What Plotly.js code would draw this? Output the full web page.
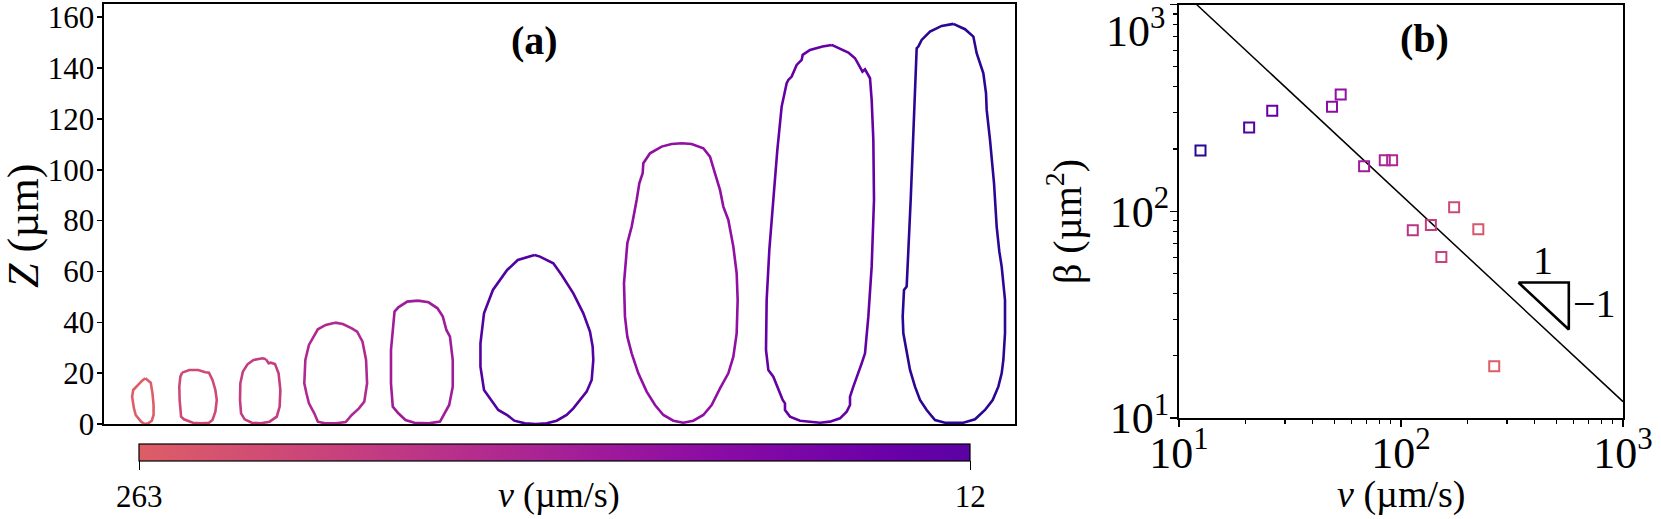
<!DOCTYPE html>
<html>
<head>
<meta charset="utf-8">
<script src="https://cdn.plot.ly/plotly-3.0.1.min.js"></script>
<style>html,body{margin:0;padding:0;background:#fff;}#chart{width:1661px;height:519px;}</style>
</head>
<body>
<div id="chart"></div>
<script>
// ---------- Panel (a): cell outlines (x, Z in µm) ----------
const cell1X = [16.47,18.58,19.28,19.70,19.70,19.00,17.59,16.19,14.78,12.67,11.97,11.27,11.69,13.38,15.20];
const cell1Z = [17.97,16.26,12.07,7.48,3.54,1.31,0.26,0,0.92,3.54,6.16,10.75,13.38,15.34,17.05];
const cell2X = [30.94,33.75,37.26,40.07,41.48,42.88,44.01,44.57,44.01,42.88,41.48,38.67,35.16,31.64,30.52,29.96,29.82,30.24];
const cell2Z = [20.20,21.25,21.25,20.33,20.20,17.31,13.38,9.44,4.85,1.57,0.52,0.26,0.52,1.84,2.89,9.44,14.69,18.62];
const cell3X = [63.96,62.55,59.04,56.65,54.83,53.84,53.70,54.12,55.53,58.34,61.85,65.36,68.17,69.30,69.58,68.88,67.47,65.79,64.94];
const cell3Z = [25.44,25.84,25.18,23.48,20.59,16.00,9.44,4.20,1.84,0.52,0.26,0.92,2.89,6.82,13.38,19.93,23.61,24.13,23.87];
const cell4X = [91.08,94.17,97.68,99.79,101.9,103.3,103.7,102.6,100.5,97.68,95.29,91.36,87.14,84.33,82.93,80.82,79.84,79.0,79.41,80.82,84.33,87.42];
const cell4Z = [39.87,39.34,37.64,36.33,32.39,25.18,16.0,8.79,6.16,3.54,0.79,0.26,0.26,0.92,4.20,8.13,12.07,16.0,25.18,31.08,37.25,38.95];
const cell5X = [123.7,127.9,131.4,133.5,134.9,136.3,137.4,137.4,136.0,134.2,132.4,127.9,122.3,118.8,116.0,113.8,113.1,113.1,113.8,114.5,116.0,119.5];
const cell5Z = [48.52,47.87,45.51,42.23,36.98,34.36,25.18,14.69,7.48,4.20,0.92,0.26,0.52,1.57,4.20,6.82,16.0,29.11,38.30,44.20,45.90,48.13];
const cell6X = [169.6,171.7,176.97,180.25,184.84,188.77,191.39,192.44,192.70,192.05,190.08,188.11,184.84,182.21,178.28,174.34,170.0,165.8,161.6,158.8,155.3,152.5,149.7,148.3,148.3,149.7,153.2,158.8,163.0];
const cell6Z = [66.49,65.84,63.21,58.62,51.41,43.54,36.33,30.43,25.18,17.31,12.72,10.10,6.16,3.54,1.31,0.26,0,0.26,1.31,3.54,5.51,9.44,13.38,22.56,31.74,43.54,52.72,60.59,64.52];
const cell7X = [227.46,231.39,235.98,238.6,240.57,242.54,243.85,245.82,247.79,249.1,249.49,249.1,247.79,245.82,242.54,239.26,235.98,232.05,228.11,224.18,220.25,216.97,213.69,210.41,207.79,206.08,205.16,204.77,206.08,207.79,209.75,210.8,212.11,212.38,215.0,219.59,223.52];
const cell7Z = [110.43,110.16,108.46,105.18,98.62,92.07,85.51,80.26,69.77,59.28,48.79,35.67,26.49,19.93,14.03,7.48,3.54,1.31,0.52,1.31,3.54,7.48,12.72,19.93,27.80,34.36,42.23,55.34,71.08,77.64,88.13,94.69,98.62,102.56,106.49,109.11,110.16];
const cell8X = [286.48,290.41,293.03,295.66,297.62,298.6,299.59,301.56,302.21,302.87,303.13,302.21,300.9,299.59,298.28,296.31,295.0,293.69,293.69,292.38,289.75,285.82,281.89,274.02,270.08,268.11,268.11,267.2,265.49,263.52,261.56,260.64,260.9,261.95,263.52,265.1,266.8,268.77,269.43,270.74,272.7,274.67,275.07,277.95,282.89];
const cell8Z = [149.11,147.15,146.1,143.87,140.59,138.6,139.5,136.0,127.48,111.74,88.13,61.9,42.23,27.8,23.87,18.62,14.69,10.75,7.48,4.85,2.23,0.92,0.52,1.31,2.89,5.51,8.13,9.44,13.38,18.62,21.25,29.11,48.79,68.46,88.13,107.8,124.85,134.03,135.34,136.66,141.25,143.21,145.18,147.15,148.46];
const cell9X = [334.35,338.93,342.22,343.52,346.15,347.2,347.46,348.77,350.35,351.39,352.44,353.36,354.67,354.67,354.02,353.36,352.05,349.82,346.8,342.87,338.28,331.07,327.13,323.85,321.23,319.26,317.3,315.98,314.67,314.41,314.93,315.98,316.64,317.56,318.61,319.66,319.92,320.57,321.88,325.16,329.75];
const cell9Z = [157.38,155.28,152.39,145.84,137.97,130.1,123.54,111.74,94.69,77.64,67.8,61.9,48.79,35.67,25.18,19.93,14.69,9.44,5.51,1.84,0.52,0.52,1.57,5.51,9.44,14.69,21.25,27.8,35.67,42.23,52.72,54.03,67.15,88.13,114.36,140.59,147.8,148.46,151.08,154.36,156.59];
// velocity (µm/s) assigned to each outline (sets its colour)
const cellV = [263, 173.5, 136.3, 91.2, 68.2, 20.7, 53.5, 26.3, 12.5];

// ---------- Panel (b): β versus v ----------
const vData    = [12.5, 20.7, 26.3, 48.9, 53.5, 68.2, 84.5, 91.2, 113, 136.3, 173.5, 152, 223, 263];
const betaData = [196.9, 254, 306, 320, 367, 165, 176.6, 176.6, 81, 85.7, 104.7, 60, 81.9, 17.8];
const fitV     = [12, 1000];
const fitBeta  = [1000, 12];
const triV     = [338, 570, 570, 338];
const triBeta  = [45.2, 45.2, 26.8, 45.2];
const cbTicks  = [263, 12];
const logTickVals  = [10, 100, 1000];
const logTickText  = ['10<sup>1</sup>', '10<sup>2</sup>', '10<sup>3</sup>'];
const logMinorVals = [20,30,40,50,60,70,80,90,200,300,400,500,600,700,800,900];

// ---------- colour helpers (plasma) ----------
const plasmaStops = [[0,[13,8,135]],[0.1,[65,4,157]],[0.2,[106,0,168]],[0.3,[143,13,164]],[0.4,[177,42,144]],[0.5,[204,71,120]],[0.6,[225,100,98]],[0.7,[242,132,75]]];
function plasma(t){
  for(let i=0;i<plasmaStops.length-1;i++){
    const [t0,c0]=plasmaStops[i],[t1,c1]=plasmaStops[i+1];
    if(t<=t1||i===plasmaStops.length-2){
      const f=Math.max(0,Math.min(1,(t-t0)/(t1-t0)));
      return 'rgb('+c0.map((c,k)=>Math.round(c+(c1[k]-c)*f)).join(',')+')';
    }
  }
}
const vMin=12, vMax=263;
function vColor(v){
  const f=(Math.log10(v)-Math.log10(vMin))/(Math.log10(vMax)-Math.log10(vMin));
  return plasma(0.05+0.53*Math.max(0,Math.min(1,f)));
}
const cbScale=[];
for(let i=0;i<=10;i++){ cbScale.push([i/10, plasma(0.58-0.42*i/10)]); }

const FONT='"Liberation Serif", "DejaVu Serif", serif';
const W=1661,H=519;
const px=(x)=>x/W, py=(y)=>1-y/H;

const cellsX=[cell1X,cell2X,cell3X,cell4X,cell5X,cell6X,cell7X,cell8X,cell9X];
const cellsZ=[cell1Z,cell2Z,cell3Z,cell4Z,cell5Z,cell6Z,cell7Z,cell8Z,cell9Z];
const traces=[];
cellsX.forEach((X,i)=>{
  const Z=cellsZ[i];
  traces.push({x:X.concat([X[0]]), y:Z.concat([Z[0]]), mode:'lines', type:'scatter',
    xaxis:'x', yaxis:'y', line:{color:vColor(cellV[i]), width:2.6}, hoverinfo:'skip', showlegend:false});
});
// colour bar carrier (no drawn marks)
traces.push({x:[null], y:[null], type:'scatter', mode:'markers', xaxis:'x', yaxis:'y', showlegend:false,
  marker:{color:[-vMax], cmin:-vMax, cmax:-vMin, colorscale:cbScale, showscale:true,
    colorbar:{orientation:'h', x:px((139.3+970)/2), xanchor:'center', y:py(444), yanchor:'top',
      len:830.7, lenmode:'pixels', thickness:17, thicknessmode:'pixels', xpad:0, ypad:0,
      outlinewidth:1.2, outlinecolor:'#000', ticks:'outside', ticklen:9, tickwidth:1.2, tickcolor:'#000',
      tickvals:cbTicks.map(v=>-v), ticktext:cbTicks.map(String), tickfont:{family:FONT,size:31,color:'#000'}}}});
// fit line
traces.push({x:fitV, y:fitBeta, mode:'lines', type:'scatter', xaxis:'x2', yaxis:'y2', line:{color:'#000', width:1.5}, showlegend:false});
// data
traces.push({x:vData, y:betaData, mode:'markers', type:'scatter', xaxis:'x2', yaxis:'y2', showlegend:false,
  marker:{symbol:'square-open', size:10, color:vData.map(vColor), line:{width:2}}});
// slope triangle
traces.push({x:triV, y:triBeta, mode:'lines', type:'scatter', xaxis:'x2', yaxis:'y2', line:{color:'#000', width:2.6}, showlegend:false});

const axLine={showline:true, linecolor:'#000', linewidth:2, mirror:true, showgrid:false, zeroline:false};
const logAxis={type:'log', range:[1,3], tickmode:'array', tickvals:logTickVals,
    ticks:'outside', ticklen:7, tickwidth:1.5, tickcolor:'#000', tickfont:{family:FONT,size:44,color:'#000'},
    minor:{tickmode:'array', tickvals:logMinorVals, ticks:'outside', ticklen:4, tickwidth:1.2, tickcolor:'#000', showgrid:false}};
const layout={
  width:W, height:H, margin:{l:0,r:0,t:0,b:0}, paper_bgcolor:'#fff', plot_bgcolor:'#fff',
  font:{family:FONT, color:'#000'}, showlegend:false,
  xaxis:Object.assign({domain:[px(103.5),px(1015)], range:[0,358.6], showticklabels:false, ticks:''}, axLine),
  yaxis:Object.assign({domain:[py(424),py(4)], range:[0,165.2], dtick:20, tick0:0, ticks:'outside', ticklen:5, tickwidth:1.5, tickcolor:'#000',
    ticklabelstandoff:-4, tickfont:{family:FONT,size:31,color:'#000'}}, axLine),
  xaxis2:Object.assign({domain:[px(1179),px(1623)], anchor:'y2', ticktext:logTickText, ticklabelstandoff:-12}, logAxis, axLine),
  // top label (10^3) is drawn as an annotation below so that it is not clipped by the page edge
  yaxis2:Object.assign({domain:[py(418),py(4.5)], anchor:'x2', ticktext:[logTickText[0], logTickText[1], ''], ticklabelstandoff:-8}, logAxis, axLine),
  annotations:[
    {text:logTickText[2], x:px(1167), y:py(29), xref:'paper', yref:'paper', showarrow:false, xanchor:'right', yanchor:'middle', font:{family:FONT,size:44}},
    {text:'<i>Z</i> (µm)', x:px(24), y:py(226), xref:'paper', yref:'paper', textangle:-90, showarrow:false, xanchor:'center', yanchor:'middle', font:{family:FONT,size:44}},
    {text:'<b>(a)</b>', x:px(534), y:py(40), xref:'paper', yref:'paper', showarrow:false, xanchor:'center', yanchor:'middle', font:{family:FONT,size:40}},
    {text:'<b>(b)</b>', x:px(1424), y:py(38), xref:'paper', yref:'paper', showarrow:false, xanchor:'center', yanchor:'middle', font:{family:FONT,size:40}},
    {text:'<i>v</i> (µm/s)', x:px(559), y:py(495), xref:'paper', yref:'paper', showarrow:false, xanchor:'center', yanchor:'middle', font:{family:FONT,size:36}},
    {text:'<i>v</i> (µm/s)', x:px(1401), y:py(494), xref:'paper', yref:'paper', showarrow:false, xanchor:'center', yanchor:'middle', font:{family:FONT,size:38}},
    {text:'β (µm<sup>2</sup>)', x:px(1064), y:py(222), xref:'paper', yref:'paper', textangle:-90, showarrow:false, xanchor:'center', yanchor:'middle', font:{family:FONT,size:40}},
    {text:'1', x:px(1543), y:py(260), xref:'paper', yref:'paper', showarrow:false, xanchor:'center', yanchor:'middle', font:{family:FONT,size:40}},
    {text:'−1', x:px(1594), y:py(303), xref:'paper', yref:'paper', showarrow:false, xanchor:'center', yanchor:'middle', font:{family:FONT,size:40}}
  ]
};
Plotly.newPlot('chart', traces, layout, {staticPlot:true, displayModeBar:false});
</script>
</body>
</html>
